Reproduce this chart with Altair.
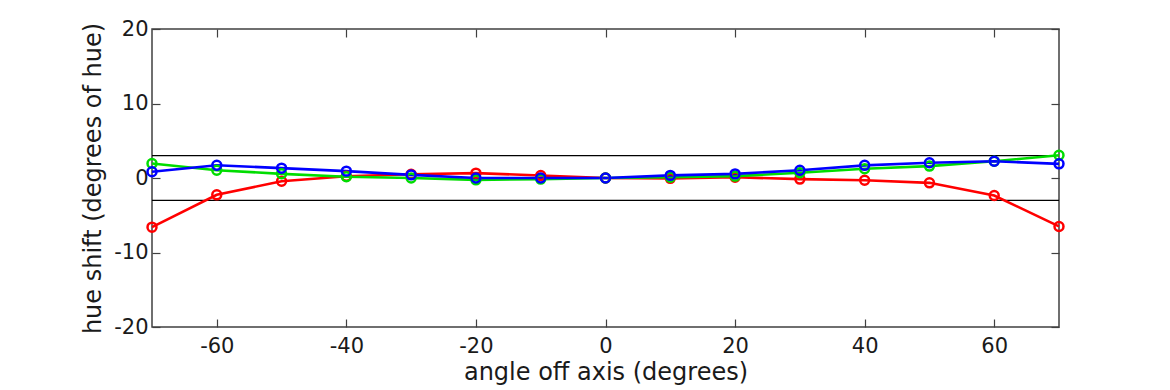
import altair as alt
import pandas as pd

angles = [-70, -60, -50, -40, -30, -20, -10, 0, 10, 20, 30, 40, 50, 60, 70]
red = [-6.6, -2.26, -0.43, 0.24, 0.51, 0.65, 0.34, 0.0, -0.05, 0.1, -0.15, -0.3, -0.65, -2.35, -6.5]
green = [1.95, 1.05, 0.56, 0.16, 0.0, -0.25, -0.15, 0.0, 0.1, 0.25, 0.7, 1.25, 1.6, 2.25, 3.05]
blue = [0.83, 1.72, 1.32, 0.92, 0.42, 0.0, 0.0, 0.0, 0.35, 0.55, 1.05, 1.7, 2.05, 2.25, 1.9]
series_names = ["red", "green", "blue"]
series_colors = ["#ff0000", "#00dd00", "#0000ff"]
limits = [3, -3]
x_ticks = [-60, -40, -20, 0, 20, 40, 60]
y_ticks = [-20, -10, 0, 10, 20]

rows = []
for name, vals in zip(series_names, [red, green, blue]):
    for a, v in zip(angles, vals):
        rows.append({"angle": a, "shift": v, "series": name})
df = pd.DataFrame(rows)
lim_df = pd.DataFrame({"lim": limits})

FONT = "DejaVu Sans"
AX = "#404040"
TXT = "#1a1a1a"
LBL = "toString(datum.value)"

xscale = alt.Scale(domain=[-70, 70], nice=False, zero=False)
yscale = alt.Scale(domain=[-20, 20], nice=False, zero=False)
cscale = alt.Scale(domain=series_names, range=series_colors)

x_main = alt.X("angle:Q", scale=xscale, axis=alt.Axis(
    orient="bottom", values=x_ticks, offset=-8, tickSize=8, tickColor=AX, tickWidth=1.2,
    domain=False, grid=False, labelPadding=8, labelFont=FONT, labelFontSize=21,
    labelExpr=LBL, labelColor=TXT, title="angle off axis (degrees)", titleFont=FONT,
    titleFontSize=24, titleFontWeight="normal", titleColor=TXT, titlePadding=4))
y_main = alt.Y("shift:Q", scale=yscale, axis=alt.Axis(
    orient="left", values=y_ticks, offset=-8, tickSize=8, tickColor=AX, tickWidth=1.2,
    domain=False, grid=False, labelPadding=4, labelFont=FONT, labelFontSize=21,
    labelExpr=LBL, labelColor=TXT, title="hue shift (degrees of hue)", titleFont=FONT,
    titleFontSize=24, titleFontWeight="normal", titleColor=TXT, titlePadding=8))

lines = alt.Chart(df).mark_line(
    strokeWidth=2.6,
    point=alt.OverlayMarkDef(filled=False, size=80, strokeWidth=2.5),
).encode(
    x=x_main,
    y=y_main,
    color=alt.Color("series:N", scale=cscale, legend=None),
    order=alt.Order("angle:Q"),
    detail="series:N",
)

x_mirror = alt.X("angle:Q", scale=xscale, axis=alt.Axis(
    orient="top", values=x_ticks, offset=-8, tickSize=8, tickColor=AX, tickWidth=1.2,
    domain=False, grid=False, labels=False, title=None))
y_mirror = alt.Y("shift:Q", scale=yscale, axis=alt.Axis(
    orient="right", values=y_ticks, offset=-8, tickSize=8, tickColor=AX, tickWidth=1.2,
    domain=False, grid=False, labels=False, title=None))

mirror = alt.Chart(df).mark_point(opacity=0).encode(x=x_mirror, y=y_mirror)

hlines = alt.Chart(lim_df).mark_rule(color="#000000", strokeWidth=1.2).encode(
    y=alt.Y("lim:Q", scale=yscale, axis=None)
)

chart = alt.layer(hlines, lines, mirror).resolve_axis(
    x="independent", y="independent"
).properties(
    width=907, height=298,
    background="white",
    autosize=alt.AutoSizeParams(type="none"),
    padding={"left": 144, "top": 21, "right": 100, "bottom": 60},
).configure_view(stroke=AX, strokeWidth=1.5)

chart.save("out.html", embed_options={"renderer": "svg", "actions": False})
